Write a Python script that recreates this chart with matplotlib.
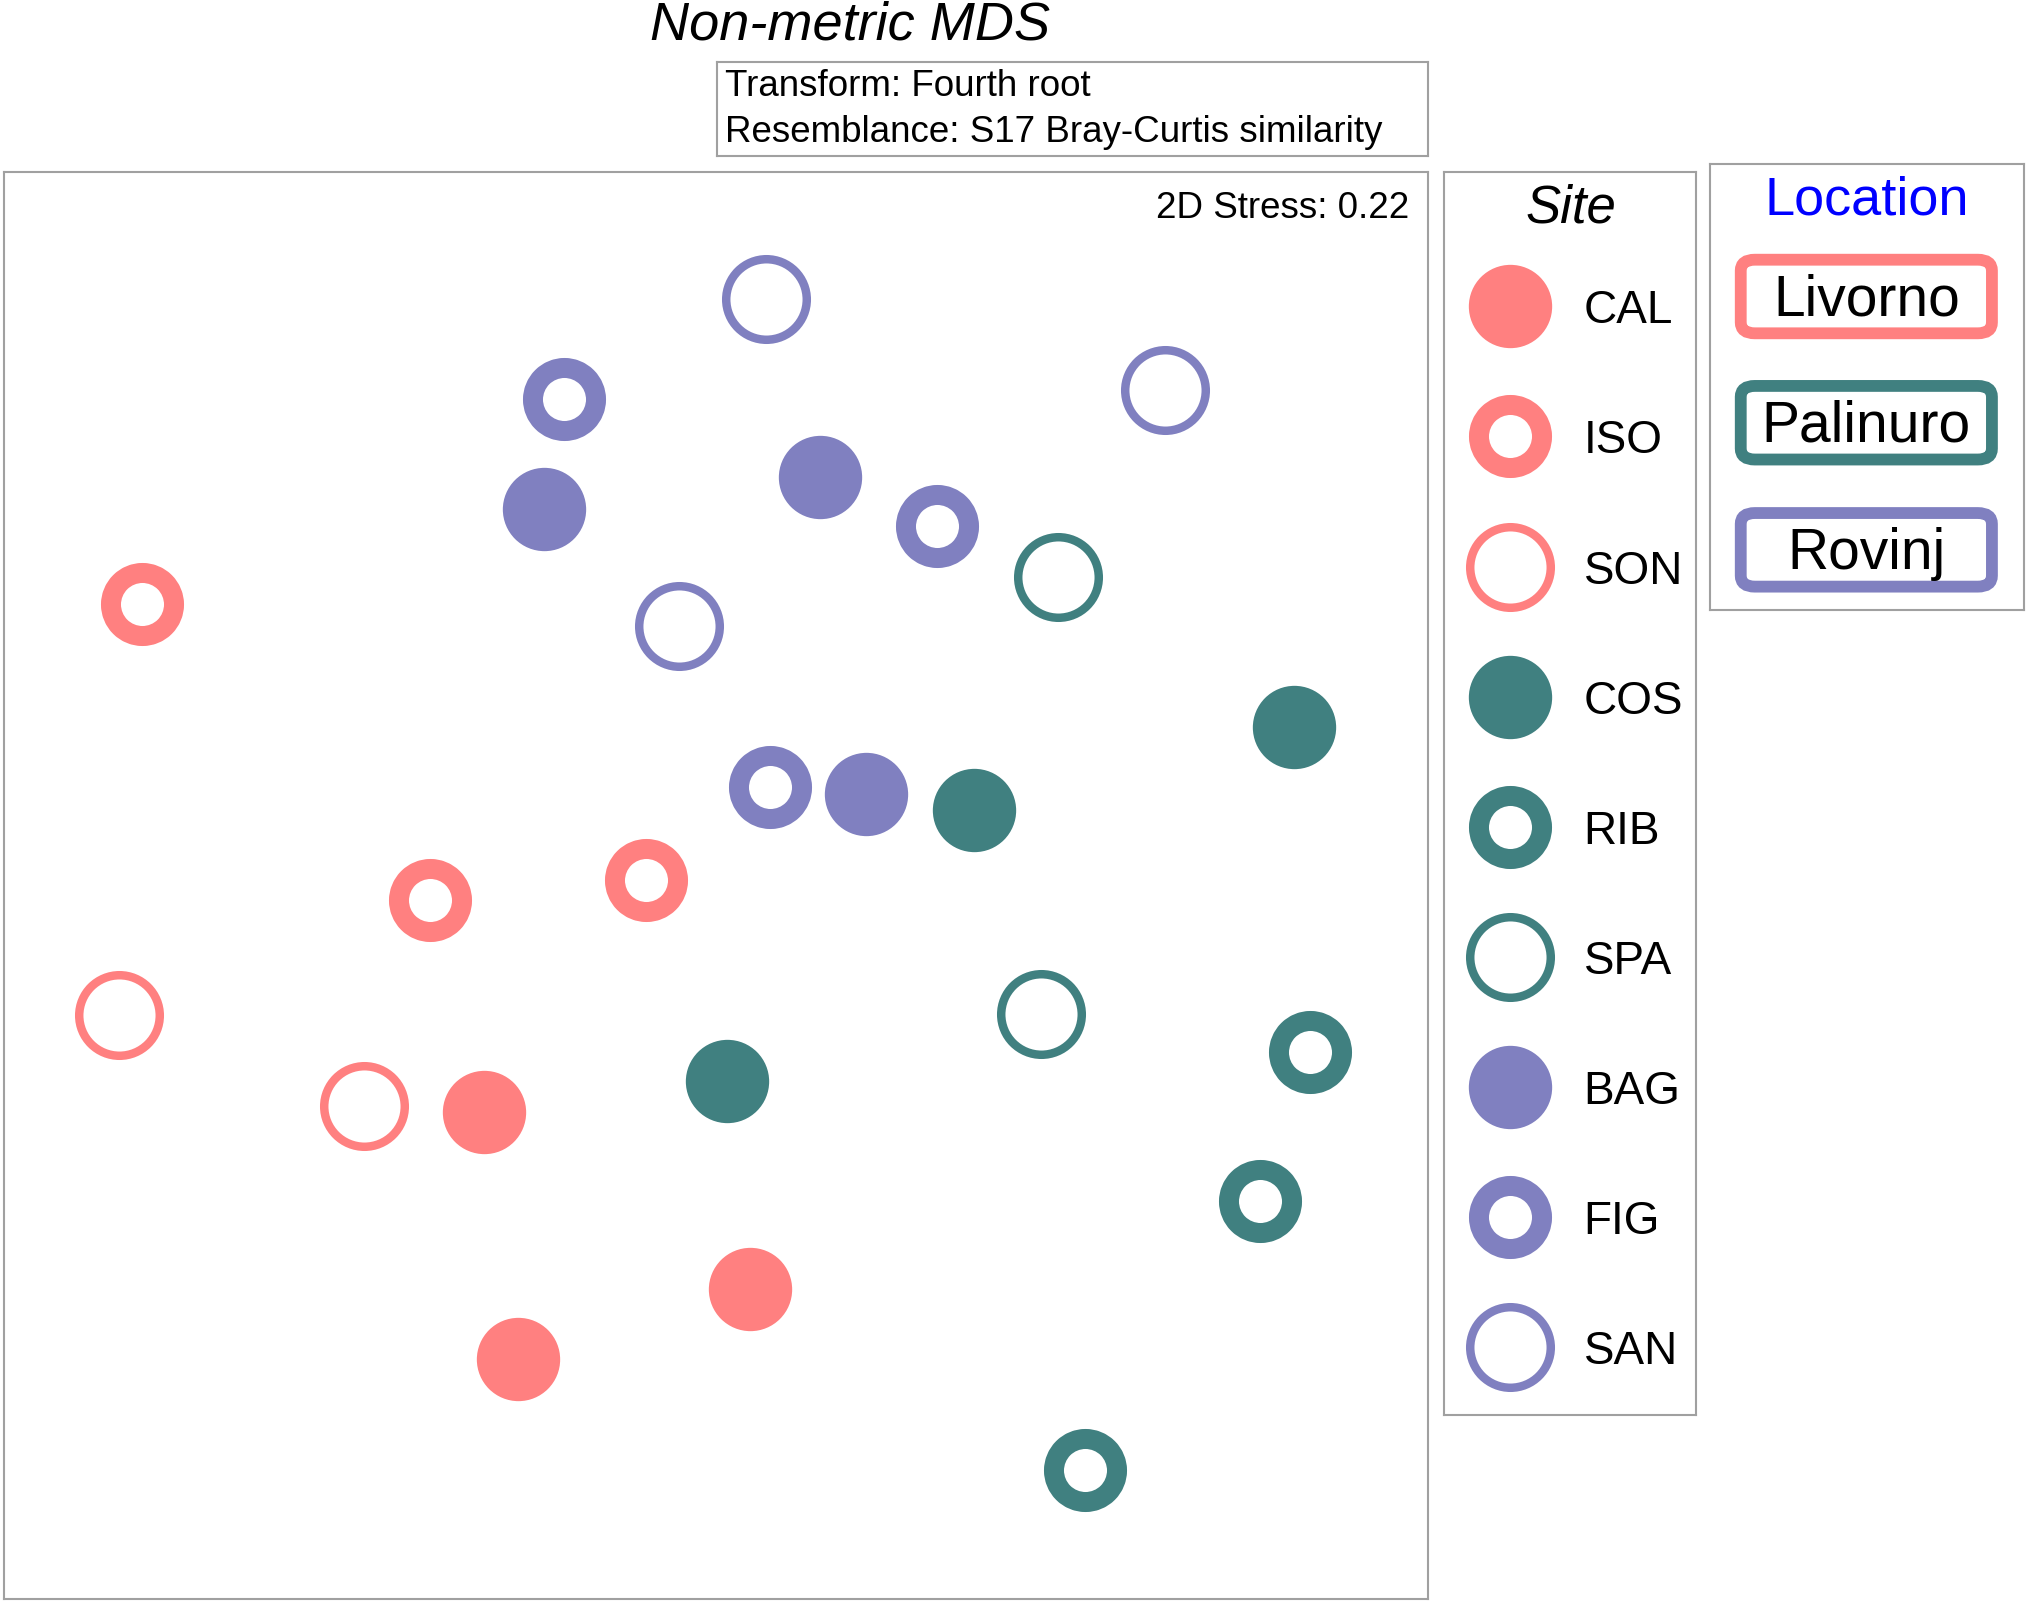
import numpy as np
import matplotlib.pyplot as plt
from matplotlib.patches import FancyBboxPatch

plt.rcParams['font.family'] = ['Liberation Sans', 'DejaVu Sans']

# sites, their location and symbol type
sites = ['CAL', 'ISO', 'SON', 'COS', 'RIB', 'SPA', 'BAG', 'FIG', 'SAN']
site_location = ['Livorno', 'Livorno', 'Livorno',
                 'Palinuro', 'Palinuro', 'Palinuro',
                 'Rovinj', 'Rovinj', 'Rovinj']
site_symbol = ['filled', 'ring', 'open'] * 3
locations = ['Livorno', 'Palinuro', 'Rovinj']
location_colors = {'Livorno': '#FF8080', 'Palinuro': '#408080', 'Rovinj': '#8080C0'}

# nMDS coordinates (arbitrary 0-100 units)
mds1 = {
    'CAL': [33.7, 52.4, 36.1],
    'ISO': [9.7, 29.9, 45.1],
    'SON': [8.1, 25.3],
    'COS': [90.6, 68.1, 50.8],
    'RIB': [91.7, 88.2, 75.9],
    'SPA': [74.0, 72.8],
    'BAG': [37.9, 57.3, 60.5],
    'FIG': [39.3, 65.5, 53.8],
    'SAN': [53.5, 81.5, 47.4],
}
mds2 = {
    'CAL': [34.1, 21.7, 16.8],
    'ISO': [69.7, 49.0, 50.4],
    'SON': [40.9, 34.5],
    'COS': [61.1, 55.3, 36.3],
    'RIB': [38.3, 27.9, 9.0],
    'SPA': [71.6, 41.0],
    'BAG': [76.4, 78.6, 56.4],
    'FIG': [84.1, 75.2, 56.9],
    'SAN': [91.1, 84.7, 68.2],
}
stress = 0.22

frame_col = '#A0A0A0'


def marker_style(kind, col):
    if kind == 'filled':
        return dict(marker='o', ms=60, mfc=col, mec=col, mew=0)
    if kind == 'ring':
        return dict(marker='o', ms=45.4, mfc='white', mec=col, mew=14.4)
    return dict(marker='o', ms=58, mfc='white', mec=col, mew=6.1)


def frame(ax):
    ax.set_xticks([])
    ax.set_yticks([])
    for s in ax.spines.values():
        s.set_color(frame_col)
        s.set_linewidth(1.5)


fig = plt.figure(figsize=(20.27, 16.02), dpi=100)

# main ordination plot
ax = fig.add_axes([0.002, 0.002, 0.7025, 0.8908])
for site, loc, kind in zip(sites, site_location, site_symbol):
    ax.plot(mds1[site], mds2[site], linestyle='none',
            **marker_style(kind, location_colors[loc]))
ax.set_xlim(0, 100)
ax.set_ylim(0, 100)
frame(ax)
ax.text(98.7, 97.4, f'2D Stress: {stress:.2f}', ha='right', va='center', fontsize=26.5)

fig.text(0.4196, 0.9839, 'Non-metric MDS', ha='center', va='center',
         fontsize=39, style='italic')

# transform / resemblance box
axt = fig.add_axes([0.3537, 0.9026, 0.3508, 0.0587])
frame(axt)
axt.text(0.011, 0.74, 'Transform: Fourth root', ha='left', va='center',
         fontsize=26.5, transform=axt.transAxes)
axt.text(0.011, 0.25, 'Resemblance: S17 Bray-Curtis similarity', ha='left', va='center',
         fontsize=26.5, transform=axt.transAxes)

# Site legend
axs = fig.add_axes([0.7124, 0.1167, 0.1243, 0.7759])
frame(axs)
axs.set_xlim(0, 1)
axs.set_ylim(0, 1)
axs.text(0.503, 0.971, 'Site', ha='center', va='center', fontsize=38, style='italic')
ys = 1 - (0.108 + 0.1047 * np.arange(len(sites)))
for y, site, loc, kind in zip(ys, sites, site_location, site_symbol):
    axs.plot([0.262], [y], linestyle='none', clip_on=False,
             **marker_style(kind, location_colors[loc]))
    axs.text(0.554, y - 0.004, site, ha='left', va='center', fontsize=33)

# Location legend
axl = fig.add_axes([0.8436, 0.6192, 0.1549, 0.2784])
frame(axl)
axl.set_xlim(0, 1)
axl.set_ylim(0, 1)
axl.text(0.498, 0.919, 'Location', ha='center', va='center', fontsize=39, color='#0000FF')
box_y = [0.703, 0.420, 0.135]
bw, bh = 0.80, 0.165
for y, loc in zip(box_y, locations):
    axl.add_patch(FancyBboxPatch((0.498 - bw / 2, y - bh / 2), bw, bh,
                                 boxstyle='round,pad=0,rounding_size=0.045',
                                 fc='white', ec=location_colors[loc], lw=8.5,
                                 mutation_aspect=0.55))
    axl.text(0.498, y - 0.009, loc, ha='center', va='center', fontsize=41)

fig.savefig('out.png', dpi=100)
